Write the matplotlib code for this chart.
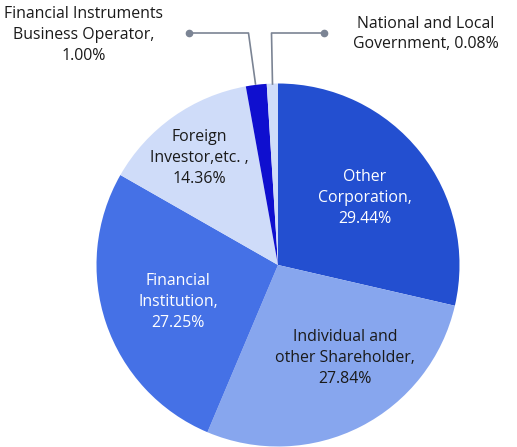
import matplotlib

matplotlib.use("Agg")
import matplotlib.pyplot as plt

plt.rcParams["font.family"] = ["Open Sans", "DejaVu Sans"]

# shareholder composition (label values) and drawn slice shares
categories = [
    "Other\nCorporation,",
    "Individual and\nother Shareholder,",
    "Financial\nInstitution,",
    "Foreign\nInvestor,etc. ,",
    "Financial Instruments\nBusiness Operator,",
    "National and Local\nGovernment,",
]
label_pct = ["29.44%", "27.84%", "27.25%", "14.36%", "1.00%", "0.08%"]
slice_share = [28.6, 27.75, 26.9, 13.9, 1.85, 0.99]

colors = ["#234fd0", "#87a6ee", "#4571e6", "#cfdcf9", "#0f0fcf", "#cfdcf9"]
text_colors = ["white", "#1a1a1a", "white", "#1a1a1a", "#1a1a1a", "#1a1a1a"]

W, H = 517, 447
fig = plt.figure(figsize=(W / 100, H / 100), dpi=100)
ax = fig.add_axes([0, 0, 1, 1])

cx, cy, r = 278, H - 265, 181.5
ax.pie(
    slice_share,
    colors=colors,
    startangle=90,
    counterclock=False,
    center=(cx, cy),
    radius=r,
    frame=True,
    wedgeprops=dict(linewidth=0),
)
ax.set_xlim(0, W)
ax.set_ylim(0, H)
ax.set_aspect("equal")
ax.axis("off")

# label centres in pixel coordinates (y from top)
label_pos = [(365, 198), (345, 358), (178, 302), (199, 158), (84, 35), (426, 34)]
for name, pct, (px, py), tc in zip(categories, label_pct, label_pos, text_colors):
    if name.startswith("National"):
        txt = name.replace("Government,", "Government, " + pct)
    else:
        txt = name + "\n" + pct
    ax.text(px, H - py, txt, ha="center", va="center", color=tc,
            fontsize=11.4, linespacing=1.38, fontweight="medium")

# leader lines for the small slices
lc = "#7b8494"
ax.plot([189, 248.5, 255.5], [H - 33, H - 33, H - 84], color=lc, lw=1.2)
ax.plot([189], [H - 33], "o", color=lc, ms=4.5)
ax.plot([324, 271.5, 272.5], [H - 33, H - 33, H - 84], color=lc, lw=1.2)
ax.plot([324], [H - 33], "o", color=lc, ms=4.5)

fig.savefig("out.png", dpi=100)
